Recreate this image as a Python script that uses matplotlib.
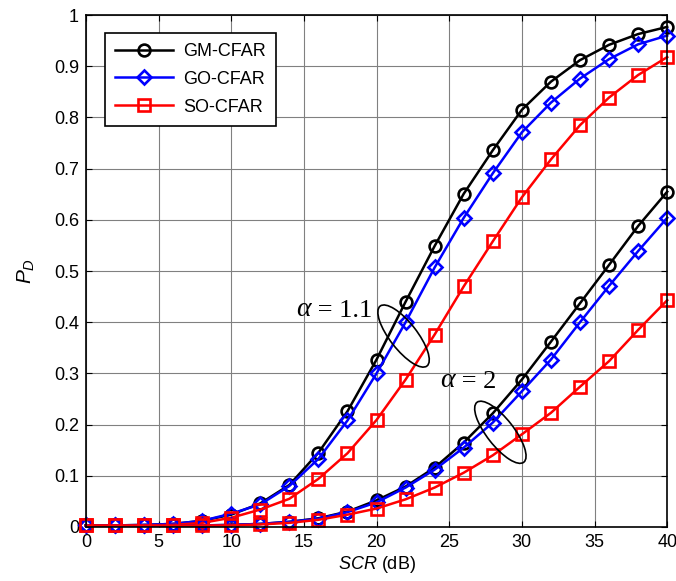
import numpy as np
import matplotlib.pyplot as plt
from matplotlib.patches import Ellipse
from matplotlib.transforms import ScaledTranslation

plt.rcParams['font.family'] = ['Liberation Sans', 'DejaVu Sans']
plt.rcParams['mathtext.fontset'] = 'custom'
plt.rcParams['mathtext.it'] = 'Liberation Sans:italic'
plt.rcParams['mathtext.rm'] = 'Liberation Sans'

scr = [0, 2, 4, 6, 8, 10, 12, 14, 16, 18, 20, 22, 24, 26, 28, 30, 32, 34, 36, 38, 40]

# alpha = 1.1
gm_11 = [0.003, 0.003, 0.004, 0.006, 0.012, 0.024, 0.046, 0.082, 0.145, 0.226, 0.327,
         0.440, 0.549, 0.651, 0.736, 0.815, 0.870, 0.912, 0.942, 0.963, 0.977]
go_11 = [0.003, 0.003, 0.004, 0.006, 0.012, 0.026, 0.044, 0.080, 0.133, 0.208, 0.300,
         0.400, 0.507, 0.604, 0.691, 0.771, 0.829, 0.876, 0.914, 0.943, 0.960]
so_11 = [0.003, 0.003, 0.003, 0.004, 0.008, 0.018, 0.034, 0.055, 0.094, 0.144, 0.209,
         0.288, 0.376, 0.470, 0.558, 0.644, 0.718, 0.785, 0.839, 0.883, 0.918]

# alpha = 2
gm_2 = [0.003, 0.003, 0.003, 0.003, 0.003, 0.004, 0.006, 0.010, 0.017, 0.030, 0.052,
        0.079, 0.116, 0.165, 0.222, 0.288, 0.362, 0.437, 0.512, 0.588, 0.655]
go_2 = [0.003, 0.003, 0.003, 0.003, 0.003, 0.004, 0.006, 0.010, 0.016, 0.029, 0.048,
        0.077, 0.112, 0.155, 0.204, 0.265, 0.327, 0.400, 0.471, 0.539, 0.604]
so_2 = [0.003, 0.003, 0.003, 0.003, 0.003, 0.003, 0.005, 0.008, 0.014, 0.024, 0.036,
        0.054, 0.077, 0.106, 0.140, 0.181, 0.223, 0.274, 0.324, 0.385, 0.443]

labels = ['GM-CFAR', 'GO-CFAR', 'SO-CFAR']

fig = plt.figure(figsize=(6.76, 5.81), dpi=100)
ax = fig.add_axes([0.127, 0.093, 0.860, 0.881])

sty = dict(lw=1.8, mew=1.9, mfc='none', clip_on=False)
ax.plot(scr, gm_11, 'k-o', label=labels[0], ms=8.5, **sty)
ax.plot(scr, go_11, '-D', color='#0000ff', label=labels[1], ms=7.5, **sty)
ax.plot(scr, so_11, '-s', color='#ff0000', label=labels[2], ms=8.5, **sty)
ax.plot(scr, gm_2, 'k-o', ms=8.5, **sty)
ax.plot(scr, go_2, '-D', color='#0000ff', ms=7.5, **sty)
ax.plot(scr, so_2, '-s', color='#ff0000', ms=8.5, **sty)

ax.set_xlim(0, 40)
ax.set_ylim(0, 1)
ax.set_xticks(np.arange(0, 41, 5))
ax.set_yticks(np.arange(0, 1.01, 0.1))
ax.set_yticklabels(['0', '0.1', '0.2', '0.3', '0.4', '0.5', '0.6', '0.7', '0.8', '0.9', '1'])
ax.grid(True, color='#808080', lw=0.8)
ax.set_axisbelow(True)
ax.tick_params(direction='in', top=True, right=True, length=4, labelsize=13, pad=5)
for s in ax.spines.values():
    s.set_linewidth(1.2)

ax.set_xlabel('$SCR$ (dB)', fontsize=13, labelpad=2)
ax.set_ylabel('$P_D$', fontsize=15, labelpad=12)

leg = ax.legend(loc='upper left', bbox_to_anchor=(0.033, 0.965), fontsize=13,
                handlelength=3.2, fancybox=False, framealpha=1, edgecolor='k',
                borderpad=0.55, labelspacing=0.6, borderaxespad=0, handletextpad=0.6)
leg.get_frame().set_linewidth(1.2)

# annotations
for x, y, txt in [(14.46, 0.413, ' = 1.1'), (24.37, 0.274, ' = 2')]:
    t = ax.text(x, y, '\u03b1', family=['Liberation Serif'], style='italic',
                fontsize=20, va='baseline')
    ax.annotate(txt, xy=(1, 0), xycoords=t, va='bottom', ha='left',
                family=['Liberation Serif', 'DejaVu Serif'], fontsize=19)

for xc, yc in [(21.86, 0.373), (28.52, 0.185)]:
    tr = fig.dpi_scale_trans + ScaledTranslation(xc, yc, ax.transData)
    e = Ellipse((0, 0), 0.76, 0.27, angle=-52, transform=tr,
                fill=False, ec='k', lw=1.2, zorder=5)
    ax.add_artist(e)

fig.savefig('out.png', dpi=100)
